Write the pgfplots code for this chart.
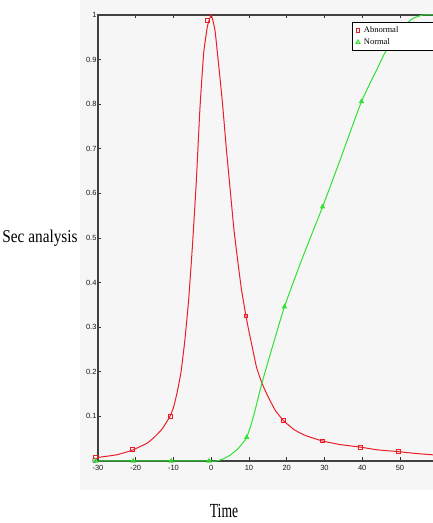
\documentclass[border=0pt]{standalone}
\usepackage{pgfplots}
\pgfplotsset{compat=1.18}
\usepackage{fontspec}
\setmainfont{Liberation Serif}
\newfontfamily\ticksf{Liberation Sans}
\definecolor{bgc}{RGB}{246,246,246}
\definecolor{lred}{RGB}{235,30,40}
\definecolor{lgreen}{RGB}{50,225,50}
\begin{document}
\begin{tikzpicture}[x=1pt,y=1pt]
\useasboundingbox (0,0) rectangle (433,523);
\fill[bgc] (80,33) rectangle (433,523);
\begin{axis}[
  at={(98pt,62pt)}, anchor=south west,
  scale only axis, width=339.75pt, height=446pt,
  xmin=-30, xmax=60, ymin=0, ymax=1,
  axis background/.style={fill=bgc},
  xtick={-30,-20,...,50},
  extra x ticks={60}, extra x tick labels={},
  ytick={0,0.1,...,1},
  yticklabels={0,0.1,0.2,0.3,0.4,0.5,0.6,0.7,0.8,0.9,1},
  tick align=inside, tick pos=both,
  major tick length=3.5pt,
  tick style={black!80, line width=0.8pt},
  axis line style={black!75, line width=1.2pt},
  /pgf/number format/assume math mode=true,
  ticklabel style={font=\ticksf\fontsize{7.5}{7.5}\selectfont, black!90},
  xticklabel style={yshift=-1pt},
  yticklabel style={xshift=2pt},
  legend style={at={(rel axis cs:0.7467,0.985)}, anchor=north west,
    font=\fontsize{8.5}{9}\selectfont, draw=black, line width=0.8pt,
    fill=white, inner ysep=3pt, inner xsep=4pt, row sep=0pt, cells={anchor=west}},
  legend cell align=left,
  legend image code/.code={\draw[#1] plot coordinates {(0.1cm,0cm)};},
  clip=false,
]
\addplot[only marks, mark=square, mark size=1.9pt, lred, line width=1pt]
 coordinates {(-30.6,0.009) (-20.9,0.025) (-10.9,0.099) (-0.9,0.987) (9.2,0.325) (19.2,0.09) (29.4,0.045) (39.6,0.031) (49.6,0.021)};
\addlegendentry{\hspace*{2pt}Abnormal\hspace*{60pt}}
\addplot[only marks, mark=triangle, mark size=2.2pt, lgreen, line width=1pt]
 coordinates {(-30.6,0) (-20.7,0) (-10.6,0) (-0.6,0) (9.4,0.053) (19.4,0.346) (29.5,0.57) (39.8,0.806) (49.6,0.96)};
\addlegendentry{\hspace*{2pt}Normal}
\addplot[lred, line width=1pt, smooth, tension=0.25, forget plot] coordinates {
(-30,0.008) (-25,0.014) (-21,0.024) (-17,0.04) (-15,0.054) (-13,0.072) (-11,0.099)
(-10,0.12) (-9,0.155) (-8,0.2) (-7,0.27) (-6,0.36) (-5,0.48) (-4,0.62) (-3,0.79)
(-2,0.915) (-1,0.975) (0,1.0) (1,0.965) (2,0.885) (3,0.8) (4,0.7) (5,0.61) (6,0.52)
(7,0.45) (8,0.385) (9.2,0.325) (10,0.29) (11,0.25) (12,0.21) (13.4,0.175) (15,0.145)
(17,0.113) (19.2,0.09) (22,0.07) (25,0.057) (29.4,0.045) (34,0.037) (39.6,0.031)
(44,0.025) (49.6,0.021) (54,0.017) (60,0.013)};
\addplot[lgreen, line width=1pt, smooth, tension=0.3, forget plot] coordinates {
(-30,0) (-20,0) (-10,0) (0,0) (1.3,0) (3,0.004) (5,0.013) (7,0.027) (8.5,0.042)
(9.4,0.053) (10.5,0.08) (11.5,0.11) (13.4,0.174) (16,0.25) (19.4,0.346) (24,0.452)
(29.5,0.57) (34,0.672) (39.8,0.806) (44,0.88) (46,0.915) (49.6,0.96) (53,0.99) (56,1.0) (60,1.0)};
\end{axis}
\node[anchor=center] at (40,285) {\scalebox{0.85}[1]{\fontsize{18}{18}\selectfont Sec analysis}};
\node[anchor=center] at (224,12) {\scalebox{0.68}[1]{\fontsize{20}{20}\selectfont Time}};
\end{tikzpicture}
\end{document}
